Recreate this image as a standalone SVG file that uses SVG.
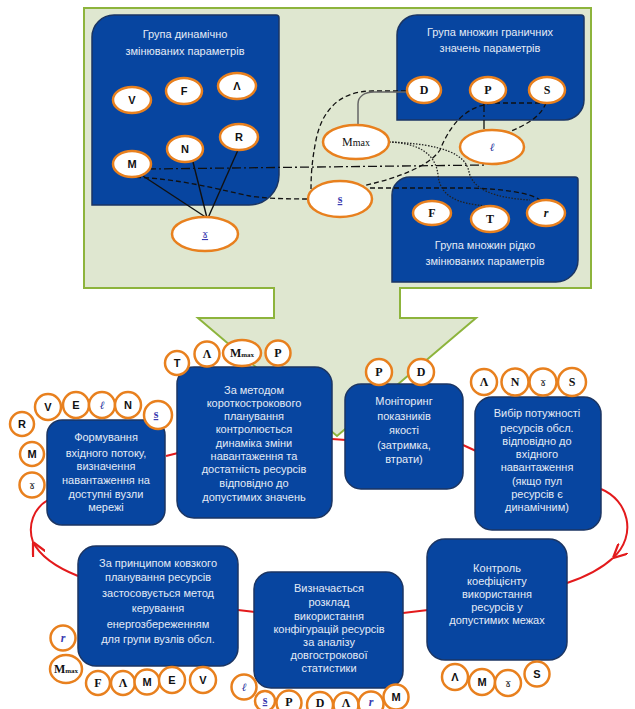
<svg xmlns="http://www.w3.org/2000/svg" width="635" height="709" viewBox="0 0 635 709">
<style>
.panel{fill:#dfe7d0;stroke:#8db43c;stroke-width:2}
.box{fill:#0745a0;stroke:#1b3563;stroke-width:1.5}
.bt{font-family:"Liberation Sans",Arial,sans-serif;font-size:11px;fill:#e4ebf6;text-anchor:middle}
.c{fill:#fff;stroke:#e8801e;stroke-width:2.5}
.ls{font-family:"Liberation Sans",Arial,sans-serif;font-size:11px;font-weight:bold;fill:#111;text-anchor:middle}
.lr{font-family:"Liberation Serif","Times New Roman",serif;font-size:12px;font-weight:bold;fill:#111;text-anchor:middle}
.lm{font-family:"Liberation Serif","Times New Roman",serif;font-size:12px;fill:#111;text-anchor:middle}
.lb{font-family:"Liberation Serif","Times New Roman",serif;font-size:12px;font-weight:bold;fill:#3a3ab0;text-anchor:middle}
.lg{font-family:"DejaVu Serif",serif;font-size:11px;fill:#222;text-anchor:middle}
.li{font-family:"DejaVu Serif",serif;font-size:11px;font-style:italic;fill:#1c2f9a;text-anchor:middle}
.d{fill:none;stroke:#111;stroke-width:1.3;stroke-dasharray:5 3}
.dd{fill:none;stroke:#111;stroke-width:1.3;stroke-dasharray:9 3 2 3}
.dt{fill:none;stroke:#222;stroke-width:1.3;stroke-dasharray:1.5 1.5}
.sg{fill:none;stroke:#666;stroke-width:1.5}
.sl{fill:none;stroke:#111;stroke-width:1.4}
.red{fill:none;stroke:#e31a1c;stroke-width:2}
</style>
<defs>
<marker id="chev" viewBox="0 0 10 10" refX="10" refY="5" markerWidth="14" markerHeight="14" markerUnits="userSpaceOnUse" orient="auto">
<path d="M0,0 L10,5 L0,10" fill="none" stroke="#e31a1c" stroke-width="1.6"/>
</marker>
</defs>
<rect width="635" height="709" fill="#ffffff"/>
<path id="panel" class="panel" d="M84 8 L591 8 L591 288 L400 288 L400 318 L476 318 L337 436 L198 318 L274 318 L274 288 L84 288 Z"/>

<g id="grp-dyn">
<path class="box" d="M114 15 L276 15 Q279 15 279 18 L279 175 A30 30 0 0 1 249 205 L92 205 L92 37 A22 22 0 0 1 114 15 Z"/>
<text class="bt" x="185" y="38" font-size="11.5">Група динамічно</text>
<text class="bt" x="185" y="55" font-size="11.5">змінюваних параметрів</text>
</g>
<g id="grp-bound">
<path class="box" d="M417 15 L581 15 Q584 15 584 18 L584 100 A20 20 0 0 1 564 120 L397 120 L397 35 A20 20 0 0 1 417 15 Z"/>
<text class="bt" x="490" y="36" font-size="11.5">Група множин граничних</text>
<text class="bt" x="490" y="52" font-size="11.5">значень параметрів</text>
</g>
<g id="grp-rare">
<path class="box" d="M410 177 L575 177 Q578 177 578 180 L578 260 A22 22 0 0 1 556 282 L392 282 L392 195 A18 18 0 0 1 410 177 Z"/>
<text class="bt" x="485" y="249" font-size="11.5">Група множин рідко</text>
<text class="bt" x="485" y="265" font-size="11.5">змінюваних параметрів</text>
</g>

<g id="connectors">
<path class="sl" d="M143 176 L207 218"/>
<path class="sl" d="M193 162 L207 218"/>
<path class="sl" d="M238 150 L208 218"/>
<path class="dd" d="M147 169 L486 165"/>
<path class="d" d="M128 177 C180 178 220 190 250 196 C262 198 280 199 308 199"/>
<path class="d" d="M406 91 L372 91 C340 91 322 110 316 140 C312 160 311 175 311 190"/>
<path class="sg" d="M358 126 L358 104 C358 96 365 92 374 92 L406 92"/>
<path class="dt" d="M389 142 C420 143 436 155 438 175 C440 195 455 204 488 206"/>
<path class="dt" d="M389 142 C445 144 466 155 469 172 C473 190 495 198 530 200"/>
<path class="dd" d="M484 103 L484 131"/>
<path class="d" d="M546 103 C540 118 525 125 507 133"/>
<path class="d" d="M540 103 L497 103 C470 104 452 120 440 150 C430 165 400 178 362 186"/>
<path class="d" d="M370 188 L470 188 C505 189 530 193 540 200"/>
<path class="red" d="M166 456 L178 453"/>
<path class="red" d="M332 439 L346 440"/>
<path class="red" d="M463 445 L476 451"/>
<path class="red" d="M601 489 C628 500 638 535 613 558" marker-end="url(#chev)"/>
<path class="red" d="M613 558 C600 570 585 577 567 583"/>
<path class="red" d="M403 613 L428 610"/>
<path class="red" d="M238 610 L255 612"/>
<path class="red" d="M78 576 C58 568 40 556 33 542" marker-end="url(#chev)"/>
<path class="red" d="M33 542 C27 525 34 508 48 500"/>
</g>

<g id="n-V"><ellipse class="c" cx="132" cy="100" rx="19" ry="13"/><text class="ls" x="132" y="104">V</text></g>
<g id="n-F"><ellipse class="c" cx="184" cy="91" rx="18" ry="13"/><text class="ls" x="184" y="95">F</text></g>
<g id="n-L"><ellipse class="c" cx="237" cy="86" rx="19" ry="13"/><text class="ls" x="237" y="90">Λ</text></g>
<g id="n-N"><ellipse class="c" cx="185" cy="149" rx="18" ry="13"/><text class="ls" x="185" y="153">N</text></g>
<g id="n-R"><ellipse class="c" cx="239" cy="137" rx="19" ry="13"/><text class="ls" x="239" y="141">R</text></g>
<g id="n-M"><ellipse class="c" cx="132" cy="164" rx="19" ry="13"/><text class="ls" x="132" y="168">M</text></g>
<g id="n-gamma"><ellipse class="c" cx="205" cy="234" rx="33" ry="17"/><text class="lg" x="205" y="238" fill="#3a3ab0" style="fill:#3a3ab0" text-decoration="underline">ɤ</text></g>
<g id="n-D"><ellipse class="c" cx="424" cy="90" rx="17" ry="13"/><text class="lr" x="424" y="94">D</text></g>
<g id="n-P"><ellipse class="c" cx="488" cy="90" rx="18" ry="13"/><text class="lr" x="488" y="94">P</text></g>
<g id="n-S"><ellipse class="c" cx="547" cy="90" rx="18" ry="13"/><text class="lr" x="547" y="94">S</text></g>
<g id="n-Mmax"><ellipse class="c" cx="356" cy="142" rx="33" ry="17"/><text class="lm" x="356" y="146">M<tspan font-size="10">max</tspan></text></g>
<g id="n-ell"><ellipse class="c" cx="492" cy="147" rx="32" ry="17"/><text class="li" x="492" y="151">ℓ</text></g>
<g id="n-s"><ellipse class="c" cx="340" cy="199" rx="32" ry="18"/><text class="lb" x="340" y="203" text-decoration="underline">s</text></g>
<g id="n-F2"><ellipse class="c" cx="432" cy="213" rx="19" ry="12"/><text class="lr" x="432" y="217">F</text></g>
<g id="n-T"><ellipse class="c" cx="490" cy="219" rx="19" ry="13"/><text class="lr" x="490" y="223">T</text></g>
<g id="n-r"><ellipse class="c" cx="546" cy="213" rx="19" ry="13"/><text class="lr" x="546" y="217" font-style="italic">r</text></g>

<g id="b-form">
<rect class="box" x="47" y="420" width="118" height="105" rx="15"/>
<text class="bt" x="106" y="441">Формування</text>
<text class="bt" x="106" y="457">вхідного потоку,</text>
<text class="bt" x="106" y="470">визначення</text>
<text class="bt" x="106" y="484">навантаження на</text>
<text class="bt" x="106" y="498">доступні вузли</text>
<text class="bt" x="106" y="511">мережі</text>
</g>
<g id="b-short">
<rect class="box" x="177" y="367" width="155" height="151" rx="17"/>
<text class="bt" x="254" y="394">За методом</text>
<text class="bt" x="254" y="407">короткострокового</text>
<text class="bt" x="254" y="420">планування</text>
<text class="bt" x="254" y="433">контролюється</text>
<text class="bt" x="254" y="447">динаміка  зміни</text>
<text class="bt" x="254" y="460">навантаження та</text>
<text class="bt" x="254" y="473">достатність ресурсів</text>
<text class="bt" x="254" y="487">відповідно до</text>
<text class="bt" x="254" y="501">допустимих значень</text>
</g>
<g id="b-mon">
<rect class="box" x="345" y="384" width="118" height="105" rx="16"/>
<text class="bt" x="404" y="405">Моніторинг</text>
<text class="bt" x="404" y="420">показників</text>
<text class="bt" x="404" y="434">якості</text>
<text class="bt" x="404" y="449">(затримка,</text>
<text class="bt" x="404" y="463">втрати)</text>
</g>
<g id="b-choice">
<rect class="box" x="475" y="397" width="126" height="133" rx="17"/>
<text class="bt" x="537" y="417">Вибір потужності</text>
<text class="bt" x="537" y="432">ресурсів обсл.</text>
<text class="bt" x="537" y="445">відповідно до</text>
<text class="bt" x="537" y="458">вхідного</text>
<text class="bt" x="537" y="471">навантаження</text>
<text class="bt" x="537" y="485">(якщо пул</text>
<text class="bt" x="537" y="498">ресурсів є</text>
<text class="bt" x="537" y="511">динамічним)</text>
</g>
<g id="b-ctrl">
<rect class="box" x="427" y="539" width="140" height="121" rx="18"/>
<text class="bt" x="497" y="572">Контроль</text>
<text class="bt" x="497" y="585">коефіцієнту</text>
<text class="bt" x="497" y="598">використання</text>
<text class="bt" x="497" y="611">ресурсів у</text>
<text class="bt" x="497" y="624">допустимих межах</text>
</g>
<g id="b-sched">
<rect class="box" x="254" y="572" width="149" height="116" rx="17"/>
<text class="bt" x="329" y="592">Визначається</text>
<text class="bt" x="329" y="606">розклад</text>
<text class="bt" x="329" y="620">використання</text>
<text class="bt" x="329" y="633">конфігурацій ресурсів</text>
<text class="bt" x="329" y="646">за аналізу</text>
<text class="bt" x="329" y="659">довгострокової</text>
<text class="bt" x="329" y="672">статистики</text>
</g>
<g id="b-slide">
<rect class="box" x="78" y="546" width="160" height="120" rx="18"/>
<text class="bt" x="158" y="567">За принципом  ковзкого</text>
<text class="bt" x="158" y="581">планування ресурсів</text>
<text class="bt" x="158" y="597">застосовується метод</text>
<text class="bt" x="158" y="612">керування</text>
<text class="bt" x="158" y="628">енергозбереженням</text>
<text class="bt" x="158" y="643">для групи вузлів обсл.</text>
</g>

<g id="c-short-T"><circle class="c" cx="177" cy="363" r="12"/><text class="ls" x="177" y="367">T</text></g>
<g id="c-short-L"><circle class="c" cx="207" cy="354" r="12.5"/><text class="lr" x="207" y="358">Λ</text></g>
<g id="c-short-Mmax"><ellipse class="c" cx="242" cy="353" rx="19" ry="13"/><text class="lr" x="242" y="357" font-size="11">M<tspan font-size="7">max</tspan></text></g>
<g id="c-short-P"><circle class="c" cx="278" cy="353" r="12.5"/><text class="lr" x="278" y="357">P</text></g>

<g id="c-form-R"><circle class="c" cx="22" cy="424" r="12"/><text class="ls" x="22" y="428">R</text></g>
<g id="c-form-V"><circle class="c" cx="48" cy="407" r="13"/><text class="ls" x="48" y="411">V</text></g>
<g id="c-form-E"><circle class="c" cx="76" cy="405" r="13"/><text class="ls" x="76" y="409">E</text></g>
<g id="c-form-l"><circle class="c" cx="102" cy="405" r="13"/><text class="li" x="102" y="409">ℓ</text></g>
<g id="c-form-N"><circle class="c" cx="128" cy="405" r="13"/><text class="ls" x="128" y="409">N</text></g>
<g id="c-form-s"><circle class="c" cx="158" cy="415" r="14"/><text class="lb" x="156" y="418" text-decoration="underline">s</text></g>
<g id="c-form-M"><circle class="c" cx="32" cy="454" r="12"/><text class="ls" x="32" y="458">M</text></g>
<g id="c-form-g"><circle class="c" cx="32" cy="485" r="12.5"/><text class="lg" x="32" y="489">ɤ</text></g>

<g id="c-mon-P"><circle class="c" cx="379" cy="372" r="13"/><text class="lr" x="379" y="376">P</text></g>
<g id="c-mon-D"><circle class="c" cx="421" cy="372" r="13"/><text class="lr" x="421" y="376">D</text></g>

<g id="c-ch-L"><circle class="c" cx="484" cy="382" r="13"/><text class="lr" x="484" y="386">Λ</text></g>
<g id="c-ch-N"><circle class="c" cx="515" cy="382" r="13.5"/><text class="lr" x="515" y="386">N</text></g>
<g id="c-ch-g"><circle class="c" cx="543" cy="382" r="13.5"/><text class="lg" x="543" y="386">ɤ</text></g>
<g id="c-ch-S"><circle class="c" cx="572" cy="382" r="14"/><text class="lr" x="572" y="386">S</text></g>

<g id="c-ct-L"><circle class="c" cx="455" cy="677" r="13"/><text class="ls" x="455" y="681">Λ</text></g>
<g id="c-ct-M"><circle class="c" cx="482" cy="682" r="13"/><text class="ls" x="482" y="686">M</text></g>
<g id="c-ct-g"><circle class="c" cx="508" cy="683" r="13"/><text class="lg" x="508" y="687">ɤ</text></g>
<g id="c-ct-S"><circle class="c" cx="537" cy="674" r="12.5"/><text class="ls" x="537" y="678">S</text></g>

<g id="c-sc-l"><circle class="c" cx="244" cy="687" r="12.5"/><text class="li" x="244" y="691">ℓ</text></g>
<g id="c-sc-s"><circle class="c" cx="265" cy="701" r="10"/><text class="lb" x="265" y="704" font-size="11" text-decoration="underline">s</text></g>
<g id="c-sc-P"><circle class="c" cx="289" cy="703" r="12.5"/><text class="lr" x="289" y="706" font-size="11">P</text></g>
<g id="c-sc-D"><circle class="c" cx="320" cy="705" r="13"/><text class="lr" x="320" y="707" font-size="11">D</text></g>
<g id="c-sc-L"><circle class="c" cx="346" cy="705" r="12.5"/><text class="lr" x="346" y="707" font-size="11">Λ</text></g>
<g id="c-sc-r"><circle class="c" cx="371" cy="704" r="12.5"/><text class="lb" x="371" y="706" font-style="italic">r</text></g>
<g id="c-sc-M"><circle class="c" cx="396" cy="697" r="12.5"/><text class="ls" x="396" y="701">M</text></g>

<g id="c-sl-r"><circle class="c" cx="63" cy="638" r="12.5"/><text class="lb" x="63" y="642" font-style="italic">r</text></g>
<g id="c-sl-Mmax"><ellipse class="c" cx="66" cy="669" rx="16" ry="14"/><text class="lr" x="66" y="673" font-size="11">M<tspan font-size="7">max</tspan></text></g>
<g id="c-sl-F"><circle class="c" cx="98" cy="683" r="12"/><text class="lr" x="98" y="687">F</text></g>
<g id="c-sl-L"><circle class="c" cx="123" cy="683" r="12"/><text class="lr" x="123" y="687">Λ</text></g>
<g id="c-sl-M"><circle class="c" cx="147" cy="682" r="12.5"/><text class="ls" x="147" y="686">M</text></g>
<g id="c-sl-E"><circle class="c" cx="172" cy="680" r="13"/><text class="ls" x="172" y="684">E</text></g>
<g id="c-sl-V"><circle class="c" cx="203" cy="680" r="13"/><text class="ls" x="203" y="684">V</text></g>
</svg>
